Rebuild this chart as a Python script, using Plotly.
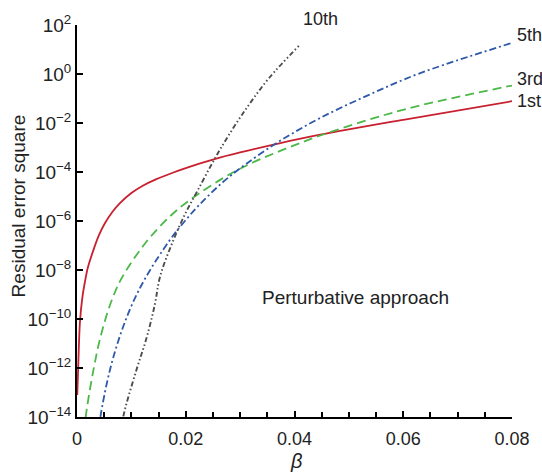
import plotly.graph_objects as go

# ---- data ----
beta_1st = [0.00005, 0.0002, 0.00055, 0.001, 0.00146, 0.002, 0.003, 0.004, 0.0051, 0.0065,
            0.0079, 0.010, 0.0121, 0.0145, 0.0176, 0.0225, 0.0253, 0.030, 0.0372, 0.0445,
            0.060, 0.080]
res_1st = [7.94e-14, 7.94e-13, 7.94e-11, 7.94e-10, 3.31e-9, 1.26e-8, 6.31e-8, 2.51e-7, 7.94e-7, 2.34e-6,
           5.37e-6, 1.38e-5, 2.75e-5, 5.01e-5, 9.33e-5, 2.19e-4, 3.39e-4, 6.31e-4, 1.48e-3, 3.24e-3,
           1.35e-2, 7.76e-2]

beta_3rd = [0.0014, 0.0016, 0.003, 0.0045, 0.0066, 0.0085, 0.0128, 0.017, 0.0207, 0.0267,
            0.0317, 0.0377, 0.0445, 0.0536, 0.0628, 0.080]
res_3rd = [2.51e-15, 1.0e-14, 7.76e-13, 2.63e-11, 7.76e-10, 6.03e-9, 1.45e-7, 1.48e-6, 7.08e-6, 5.37e-5,
           2.09e-4, 7.76e-4, 2.95e-3, 1.35e-2, 5.01e-2, 0.339]

beta_5th = [0.0040, 0.0043, 0.006, 0.0079, 0.010, 0.0127, 0.017, 0.0195, 0.0225, 0.0268,
            0.0311, 0.0372, 0.0445, 0.0536, 0.0628, 0.080]
res_5th = [2.51e-15, 1.0e-14, 7.41e-13, 2.04e-11, 3.39e-10, 5.25e-9, 1.58e-7, 8.13e-7, 4.57e-6, 3.80e-5,
           2.14e-4, 1.78e-3, 1.51e-2, 0.138, 1.02, 18.6]

beta_10th = [0.0082, 0.0085, 0.0109, 0.0128, 0.0143, 0.0153, 0.0176, 0.0198, 0.0222, 0.0253,
             0.0286, 0.0317, 0.0353, 0.0408]
res_10th = [2.51e-15, 1.0e-14, 7.94e-13, 1.70e-11, 3.80e-10, 5.62e-9, 1.41e-7, 1.78e-6, 1.78e-5, 3.39e-4,
            5.62e-3, 5.89e-2, 0.676, 14.1]

x_ticks = [0, 0.02, 0.04, 0.06, 0.08]
x_tick_labels = ["0", "0.02", "0.04", "0.06", "0.08"]
y_ticks = [1e-14, 1e-12, 1e-10, 1e-8, 1e-6, 1e-4, 1e-2, 1e0, 1e2]
y_tick_labels = ["10<sup>−14</sup>", "10<sup>−12</sup>", "10<sup>−10</sup>", "10<sup>−8</sup>",
                 "10<sup>−6</sup>", "10<sup>−4</sup>", "10<sup>−2</sup>", "10<sup>0</sup>", "10<sup>2</sup>"]

series_labels = ["1st", "3rd", "5th", "10th"]

FONT = "Liberation Sans, Arial, sans-serif"
TXT = "#222222"

fig = go.Figure()
fig.add_trace(go.Scatter(x=beta_1st, y=res_1st, mode="lines", line_shape="spline",
                         line=dict(color="#c8202e", width=1.8), name=series_labels[0]))
fig.add_trace(go.Scatter(x=beta_3rd, y=res_3rd, mode="lines", line_shape="spline",
                         line=dict(color="#4cb848", width=1.8, dash="9px,5px"), name=series_labels[1]))
fig.add_trace(go.Scatter(x=beta_5th, y=res_5th, mode="lines", line_shape="spline",
                         line=dict(color="#2e58a8", width=1.8, dash="7px,3px,2px,3px"), name=series_labels[2]))
fig.add_trace(go.Scatter(x=beta_10th, y=res_10th, mode="lines", line_shape="spline",
                         line=dict(color="#4d4d4d", width=1.9, dash="5px,2.5px,1.5px,2.5px,1.5px,2.5px"),
                         name=series_labels[3]))

ann = []
# series labels (paper coordinates relative to plot area)
ann.append(dict(x=0.514, y=1.016, xref="paper", yref="paper", text=series_labels[3], showarrow=False,
                xanchor="left", yanchor="middle", font=dict(size=18, color=TXT)))
ann.append(dict(x=1.006, y=0.975, xref="paper", yref="paper", text=series_labels[2], showarrow=False,
                xanchor="left", yanchor="middle", font=dict(size=18, color=TXT)))
ann.append(dict(x=1.006, y=0.861, xref="paper", yref="paper", text=series_labels[1], showarrow=False,
                xanchor="left", yanchor="middle", font=dict(size=18, color=TXT)))
ann.append(dict(x=1.006, y=0.807, xref="paper", yref="paper", text=series_labels[0], showarrow=False,
                xanchor="left", yanchor="middle", font=dict(size=18, color=TXT)))
ann.append(dict(x=0.641, y=0.305, xref="paper", yref="paper", text="Perturbative approach", showarrow=False,
                xanchor="center", yanchor="middle", font=dict(size=19, color=TXT)))
# axis titles
ann.append(dict(x=-0.135, y=0.538, xref="paper", yref="paper", text="Residual error square",
                textangle=-90, showarrow=False, xanchor="center", yanchor="middle",
                font=dict(size=19, color=TXT)))
ann.append(dict(x=0.503, y=-0.111, xref="paper", yref="paper", text="<i>β</i>",
                showarrow=False, xanchor="center", yanchor="middle",
                font=dict(size=20, color=TXT)))

fig.update_layout(
    width=542, height=474,
    margin=dict(l=77, r=28, t=21, b=57),
    paper_bgcolor="white", plot_bgcolor="white",
    showlegend=False,
    font=dict(family=FONT, size=18, color=TXT),
    annotations=ann,
)
fig.update_xaxes(
    range=[0, 0.08], tickvals=x_ticks, ticktext=x_tick_labels,
    showline=True, linecolor="black", linewidth=2,
    ticks="inside", ticklen=6, tickwidth=1.5, tickcolor="black",
    showgrid=False, zeroline=False,
    minor=dict(dtick=0.005, ticks="inside", ticklen=5, tickwidth=1.5, tickcolor="black", showgrid=False),
    tickfont=dict(size=18, color=TXT), ticklabelstandoff=4, ticklabeloverflow="allow",
)
fig.update_yaxes(
    type="log", range=[-14, 2], tickvals=y_ticks, ticktext=y_tick_labels,
    showline=True, linecolor="black", linewidth=2,
    ticks="inside", ticklen=6, tickwidth=1.5, tickcolor="black",
    showgrid=False, zeroline=False,
    tickfont=dict(size=19, color=TXT), ticklabeloverflow="allow",
)

fig.write_html("out.html", config={"displayModeBar": False},
               post_script="document.body.style.margin='0px';document.body.style.overflow='hidden';")
